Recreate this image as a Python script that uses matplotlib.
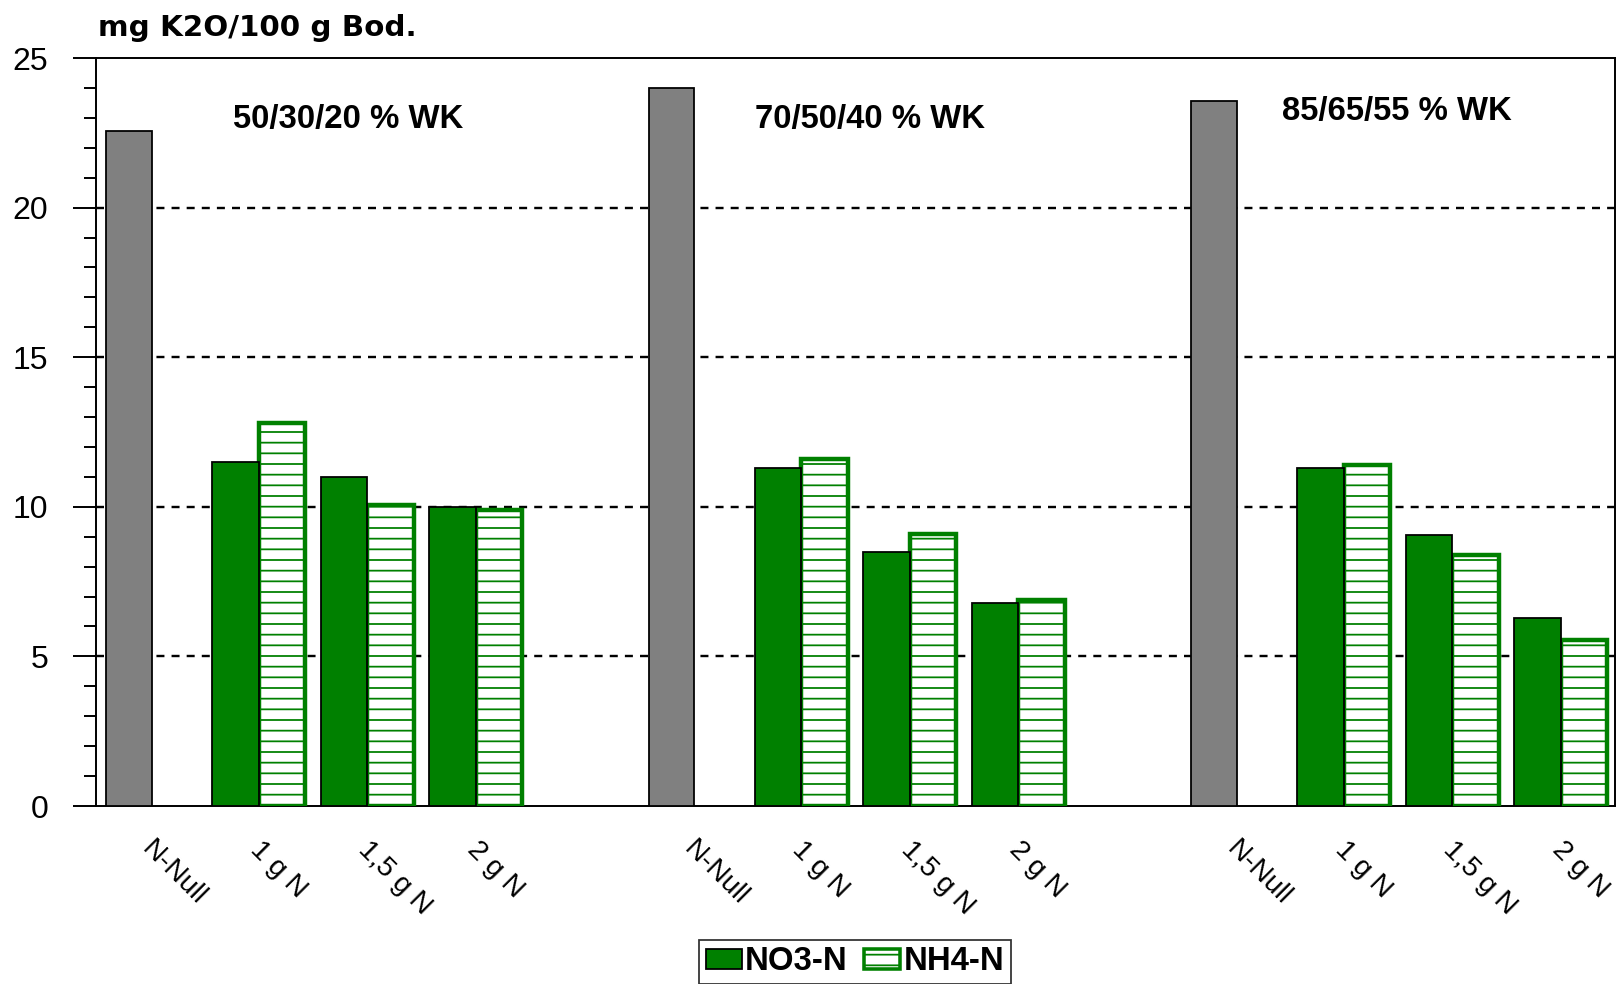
import numpy as np
import matplotlib
matplotlib.use("Agg")
import matplotlib.pyplot as plt
from matplotlib.patches import Patch

# Daten
gruppen = ["50/30/20 % WK", "70/50/40 % WK", "85/65/55 % WK"]
stufen = ["N-Null", "1 g N", "1,5 g N", "2 g N"]
n_null = [22.55, 24.0, 23.55]
no3 = [[11.5, 11.0, 10.0], [11.3, 8.5, 6.8], [11.3, 9.05, 6.3]]
nh4 = [[12.8, 10.05, 9.9], [11.6, 9.1, 6.9], [11.4, 8.4, 5.55]]
gruppe_text_pos = [(2.32, 22.95), (7.13, 22.95), (11.99, 23.2)]

GRUEN = "#008000"
GRAU = "#808080"

# dpi 64 -> Schraffur '-' hat ca. 10.7 px Abstand
DPI = 64
plt.rcParams["font.family"] = ["Liberation Sans", "DejaVu Sans"]
plt.rcParams["hatch.linewidth"] = 2.0
plt.rcParams["lines.scale_dashes"] = False

fig = plt.figure(figsize=(1618 / DPI, 984 / DPI), dpi=DPI)
ax = fig.add_axes([96 / 1618, 1 - 806 / 984, (1615 - 96) / 1618, (806 - 58) / 984])

n_slots = 5  # 4 Stufen + Lücke
for g in range(len(gruppen)):
    base = g * n_slots
    # N-Null (grau)
    ax.bar(base + 0.095, n_null[g], width=0.42, align="edge", color=GRAU,
           edgecolor="black", linewidth=2.0, zorder=3)
    for i in range(3):
        s = base + 1 + i
        ax.bar(s + 0.5, nh4[g][i], width=0.43, align="edge", color="white",
               edgecolor=GRUEN, hatch="-", linewidth=5.0, zorder=3)
        ax.bar(s + 0.07, no3[g][i], width=0.43, align="edge", color=GRUEN,
               edgecolor="black", linewidth=2.0, zorder=4)
    x, y = gruppe_text_pos[g]
    ax.text(x, y, gruppen[g], ha="center", va="center", fontsize=37,
            fontweight="bold", zorder=5)

ax.set_xlim(0, 14)
ax.set_ylim(0, 25)

# x-Beschriftung
pos = []
labs = []
for g in range(len(gruppen)):
    for i, s in enumerate(stufen):
        pos.append(g * n_slots + i + 0.54)
        labs.append(s)
ax.set_xticks(pos)
ax.set_xticklabels(labs, rotation=-45, ha="left", va="top",
                   rotation_mode="anchor", fontsize=32)
ax.tick_params(axis="x", length=0, pad=34)

# y-Achse
ax.set_yticks([0, 5, 10, 15, 20, 25])
ax.set_yticks(np.arange(0, 26, 1), minor=True)
ax.tick_params(axis="y", which="major", direction="out", length=26, width=2.2,
               labelsize=36, pad=28)
ax.tick_params(axis="y", which="minor", direction="out", length=14, width=2.2)

for sp in ax.spines.values():
    sp.set_linewidth(2.2)
    sp.set_color("black")

ax.set_axisbelow(True)
for yv in [5, 10, 15, 20]:
    ax.axhline(yv, color="black", linewidth=2.7, linestyle=(0, (9, 8)), zorder=1)

fig.text(98 / 1618, 1 - 36 / 984, "mg K2O/100 g Bod.", fontsize=33,
         fontweight="bold", family="DejaVu Sans", ha="left", va="baseline")

handles = [Patch(facecolor=GRUEN, edgecolor="black", linewidth=2.0, label="NO3-N"),
           Patch(facecolor="white", edgecolor=GRUEN, hatch="-", linewidth=4.0, label="NH4-N")]
leg = fig.legend(handles=handles, loc="lower center", bbox_to_anchor=(855 / 1618, 0.0),
                 ncol=2, frameon=True, fancybox=False, edgecolor="black",
                 prop={"size": 37, "weight": "bold"}, handlelength=1.1,
                 handleheight=0.55, handletextpad=0.1, columnspacing=0.5,
                 borderpad=0.2, borderaxespad=0.0)
leg.get_frame().set_linewidth(2.0)

fig.savefig("out.png", dpi=DPI)
